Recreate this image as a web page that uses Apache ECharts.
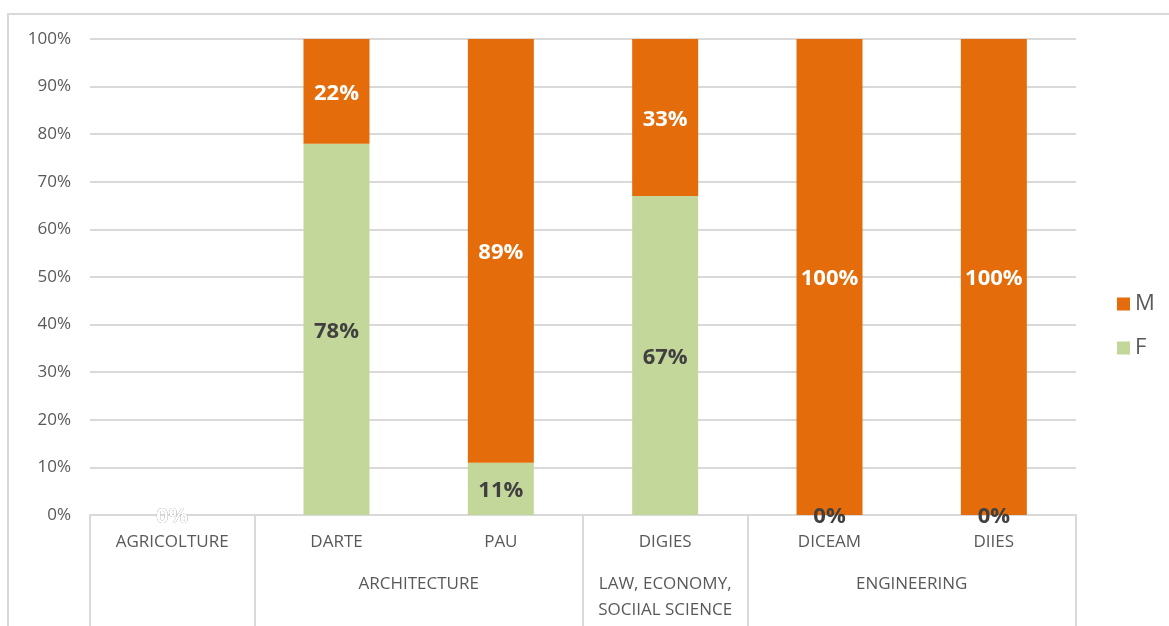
<!DOCTYPE html>
<html>
<head>
<meta charset="utf-8">
<script src="https://cdn.jsdelivr.net/npm/echarts@6/dist/echarts.min.js"></script>
<style>
	html, body { margin: 0; padding: 0; background: #fff; overflow: hidden; }
	#frame { position: absolute; left: 7px; top: 13px; width: 1300px; height: 800px; border: 2px solid #d9d9d9; }
	#chart { position: absolute; left: 0; top: 0; width: 1169px; height: 626px; }
</style>
</head>
<body>
<div id="frame"></div>
<div id="chart"></div>
<script>
// departments (first level of the x axis)
var categories = ["AGRICOLTURE", "DARTE", "PAU", "DIGIES", "DICEAM", "DIIES"];
// share of women / men, percent
var valuesF = [0, 78, 11, 67, 0, 0];
var valuesM = [0, 22, 89, 33, 100, 100];
// second level: group name, centre (in category units), and group borders
var groupNames = ["ARCHITECTURE", "LAW, ECONOMY,\nSOCIIAL SCIENCE", "ENGINEERING"];
var groupCenters = [2, 3.5, 5];
var groupBorders = [0, 1, 3, 4, 6];
var yTicks = [0, 10, 20, 30, 40, 50, 60, 70, 80, 90, 100];

var myChart = echarts.init(document.getElementById("chart"), null, { renderer: "canvas" });

var font = "'Open Sans', 'Noto Sans', sans-serif",
	gridColor = "#d9d9d9",
	textColor = "#595959";

var option = {
	animation: false,
	textStyle: { fontFamily: font },
	grid: { left: 90, right: 93, top: 39, bottom: 111, containLabel: false },
	legend: {
		data: ["M", "F"],
		orient: "vertical",
		left: 1112,
		top: 288,
		itemWidth: 13,
		itemHeight: 13,
		itemGap: 22,
		icon: "rect",
		textStyle: { fontSize: 22, color: textColor, fontFamily: font }
	},
	xAxis: [
		{
			type: "category",
			data: categories,
			axisLine: { lineStyle: { color: gridColor, width: 2 } },
			axisTick: { show: false },
			axisLabel: { margin: 19, fontSize: 17, color: textColor, interval: 0 }
		},
		{
			type: "value",
			min: 0,
			max: 6,
			position: "bottom",
			axisLine: { show: false },
			splitLine: { show: false },
			axisTick: {
				show: true,
				customValues: groupBorders,
				length: 120,
				lineStyle: { color: gridColor, width: 2 }
			},
			axisLabel: {
				customValues: groupCenters,
				margin: 56,
				verticalAlign: "top",
				align: "center",
				lineHeight: 26,
				fontSize: 17,
				color: textColor,
				formatter: function (v) {
					var i = groupCenters.indexOf(v);
					return i >= 0 ? groupNames[i] : "";
				}
			}
		}
	],
	yAxis: {
		type: "value",
		min: 0,
		max: 100,
		interval: 10,
		axisLine: { show: false },
		axisTick: { show: false },
		splitLine: { lineStyle: { color: gridColor, width: 2 } },
		axisLabel: {
			margin: 19,
			fontSize: 17,
			color: textColor,
			formatter: function (v) { return yTicks.indexOf(v) >= 0 ? v + "%" : ""; }
		}
	},
	series: [
		{
			name: "F",
			type: "bar",
			stack: "total",
			barWidth: 66,
			data: valuesF,
			itemStyle: { color: "#c4d79b" },
			label: {
				show: true,
				position: "inside",
				offset: [0, 2],
				formatter: "{c}%",
				fontSize: 22,
				fontWeight: "bold",
				color: "#404040"
			}
		},
		{
			name: "M",
			type: "bar",
			stack: "total",
			barWidth: 66,
			data: valuesM,
			itemStyle: { color: "#e46c0a" },
			label: {
				show: true,
				position: "inside",
				offset: [0, 2],
				formatter: "{c}%",
				fontSize: 22,
				fontWeight: "bold",
				color: "#ffffff"
			}
		}
	]
};

myChart.setOption(option);
</script>
</body>
</html>
